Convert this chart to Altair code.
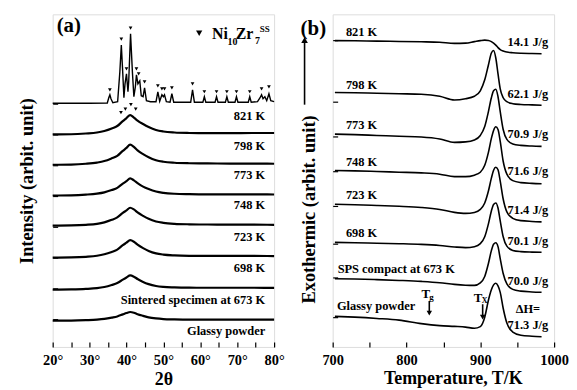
import altair as alt
import pandas as pd

FONT = "Liberation Serif"

# ---------------- (a) XRD ----------------
XRD_ANGLE = [20, 25, 29, 32, 34, 36, 37.5, 39, 40, 41, 42, 43, 44.5, 46, 48, 50, 53, 57, 62, 68, 74, 80]
XRD_SAMPLES = ["798 K", "773 K", "748 K", "723 K", "698 K", "Sintered specimen at 673 K", "Glassy powder"]
XRD_798 = [0, 0.2, 1, 2, 3.5, 6, 8.5, 13.5, 16.5, 19.5, 17, 14, 10.5, 7.5, 4.5, 3, 2, 1.5, 1.3, 1.3, 1.5, 1.5]
XRD_773 = [0, 0.2, 1, 2.2, 3.7, 6.5, 9, 14, 17, 20.2, 18, 14.5, 10.7, 7.5, 4.5, 3, 2, 1.5, 1.3, 1.2, 1.2, 1]
XRD_748 = [0, 0.2, 0.9, 1.9, 3.2, 5.5, 7.7, 12, 14.5, 17.2, 15.3, 12.5, 9, 6.5, 4, 2.7, 1.8, 1.4, 1.2, 1.2, 1.2, 1]
XRD_723 = [0, 0.2, 0.8, 1.8, 3.3, 5.8, 8.3, 12.8, 15.3, 18, 16.3, 13.3, 9.8, 6.8, 4.1, 2.8, 1.8, 1.3, 1.1, 1, 1, 0.8]
XRD_698 = [0, 0.2, 0.8, 1.8, 3.3, 5.7, 8, 12.5, 15, 17.5, 16, 13, 9.5, 6.7, 4.2, 3, 2.2, 1.8, 1.7, 1.7, 1.7, 1.5]
XRD_673 = [0, 0.2, 0.7, 1.5, 2.7, 4.7, 6.6, 10.1, 12.3, 14.3, 13.1, 10.7, 7.8, 5.6, 3.7, 2.8, 2.3, 2, 1.9, 1.9, 1.9, 1.8]
XRD_GLASS = [0, 0.1, 0.5, 1, 1.7, 3, 4.2, 6.3, 7.7, 8.7, 8, 6.5, 4.8, 3.3, 2.2, 1.6, 1.3, 1.1, 1.1, 1.1, 1.1, 1]
XRD_OFFSETS = [214, 183.5, 152.5, 122.2, 90, 57.7, 26.5]

# crystallised sample (821 K)
CRYST_ANGLE = [20, 30, 34.8, 35.2, 35.5, 35.8, 36.3, 37.6, 38.2, 38.6, 39.0, 39.3, 39.6, 40.0, 40.4, 40.6,
               41.1, 41.6, 42.0, 42.4, 42.7, 43.1, 43.6, 44.0, 44.5, 44.9, 45.4, 46.5, 48.0, 48.5, 49.0,
               49.6, 50.0, 50.3, 50.8, 51.8, 52.3, 52.8, 57.4, 57.9, 58.4, 60.7, 61.1, 61.5, 64.0, 64.4,
               64.8, 66.8, 67.2, 67.6, 69.4, 69.8, 70.2, 73.0, 73.4, 73.8, 75.5, 76.2, 76.6, 77.0, 77.5,
               78.0, 78.6, 79.1, 80]
CRYST_INT = [0, 0, 0.2, 5.5, 8.5, 4.5, 0.5, 1.5, 31.5, 58.5, 29.5, 5.5, 19.5, 29.5, 11.5, 21.5,
             70, 31.5, 6.5, 16.5, 28.5, 19.5, 22.5, 7.5, 6.5, 15.5, 2.5, 1.5, 1.5, 11.5, 2,
             8.5, 6.5, 8.5, 1.5, 1, 9.5, 1, 1, 13.5, 1, 1, 6.5, 1, 1, 6.5,
             1, 1, 6.5, 1, 1, 6.5, 1, 1, 6.5, 1, 1.5, 5.5, 8.5, 4.5, 6.5,
             2.5, 9.5, 2.5, 1.5]
CRYST_OFFSET = 245.5

# Ni10Zr7 peak markers
TRI_ANGLE = [35.5, 38.6, 40.0, 41.1, 42.7, 43.3, 44.9, 48.5, 49.6, 50.3, 52.3, 57.9, 61.1, 64.4, 67.2,
             69.8, 73.4, 76.6, 78.6, 38.5, 39.7, 41.2, 42.5]
TRI_V = [259, 310, 280, 321, 280, 275, 267, 263, 260, 260, 261, 265, 257, 257, 257,
         257, 257, 260, 262, 236, 239.5, 244, 239.5]

LABEL_A_TEXT = ["821 K", "798 K", "773 K", "748 K", "723 K", "698 K", "Sintered specimen at 673 K", "Glassy powder"]
LABEL_A_V = [233, 202.5, 173, 142.5, 111, 79.3, 47.5, 16.2]

LEGEND_TEXT = ["Ni", "10", "Zr", "7", "SS", "(a)"]
LEGEND_ANGLE = [63.2, 67.4, 69.6, 74.8, 76.1, 21.08]
LEGEND_V = [315.3, 307, 315.3, 307.7, 320, 323]
LEGEND_SIZE = [16, 10, 16, 10, 9, 21]

A_TICKS_V = [245, 214, 183, 152, 121, 90, 59, 28]

# ---------------- (b) DSC ----------------
DSC_TEMP = [703, 730, 760, 790, 820, 845, 865, 880, 892, 900, 906, 911, 915, 918, 921, 924, 927, 931, 936, 944, 955, 970, 983]
DSC_SAMPLES = ["821 K", "798 K", "773 K", "748 K", "723 K", "698 K", "SPS compact at 673 K", "Glassy powder"]
DSC_821 = [0, -0.2, -0.5, -0.8, -1.2, -1.7, -2.8, -2.5, -1, 0, 0.5, 0.2, -1, -2.5, -4.5, -7, -9, -10.5, -11.5, -12.2, -12.7, -13, -13.2]
DSC_798 = [0, -0.3, -0.8, -1.3, -1.8, -3.8, -7.6, -6.3, -3.8, 1.7, 12.7, 27.7, 39.7, 42.2, 34.7, 18.7, 3.7, -5.3, -9.3, -11.3, -12.1, -12.5, -12.8]
DSC_773 = [0, -0.5, -1.3, -2.1, -2.8, -4.8, -8.3, -7.8, -5.8, -1.3, 7.7, 22.7, 36.7, 43.7, 45.2, 37.7, 22.7, 4.7, -5.3, -9.8, -11.3, -12, -12.3]
DSC_748 = [0, -0.4, -1, -1.7, -2.4, -3.7, -6.2, -6.2, -4.7, -1.7, 5.3, 18.3, 32.3, 40.3, 44, 41.3, 29.3, 9.3, -3.7, -10.2, -12.2, -13, -13.4]
DSC_723 = [0, -0.5, -1.2, -2, -3.2, -5.2, -8.2, -9.2, -8.2, -5.2, 1.3, 13.3, 26.3, 34.3, 37.3, 34.8, 23.3, 5.3, -7.7, -14.2, -16.5, -17.3, -17.7]
DSC_698 = [0, -0.3, -0.8, -1.3, -2, -3.1, -4.6, -5.3, -4.3, -1.3, 5.7, 18.7, 31.7, 38.2, 39.7, 34.7, 21.7, 5.7, -3.8, -8.1, -9.3, -9.8, -10]
DSC_673 = [0, -0.3, -0.9, -1.7, -2.7, -4, -5.7, -6.5, -6.7, -4.2, 2.3, 15.3, 28.3, 34.8, 36.3, 32.3, 20.3, 5.3, -5.2, -10.7, -12.5, -13.3, -13.7]
DSC_GLASS = [0, -0.8, -2.1, -3.8, -7.3, -9.3, -10.1, -10.8, -12, -10.3, -0.8, 16.2, 26.7, 31.7, 33.4, 30.7, 24.2, 8.2, -6.8, -15.8, -19, -20, -20.5]
DSC_OFFSETS = [308.5, 256.3, 214.3, 177.7, 143.7, 105.3, 68.7, 30.8]

LABEL_BL_TEMP = [717.9, 717.9, 717.9, 717.9, 717.9, 717.9, 706.7, 705.8]
LABEL_BL_V = [317.3, 264, 223.3, 186.7, 152.5, 114.5, 78, 41.2]
LABEL_BR_TEXT = ["14.1 J/g", "62.1 J/g", "70.9 J/g", "71.6 J/g", "71.4 J/g", "70.1 J/g", "70.0 J/g", "ΔH=", "71.3 J/g"]
LABEL_BR_V = [307.3, 254.5, 214.5, 177.5, 138, 106.2, 66.2, 38, 21.7]

MARK_TEXT = ["T", "g", "T", "X", "(b)"]
MARK_TEMP = [826, 834, 897, 906, 673.8]
MARK_V = [53.7, 50.5, 49.5, 46.5, 320.3]
MARK_SIZE = [13, 9, 13, 8, 21]

ARROW_TEMP = [830.9, 903.2]
ARROW_TOP = [46.3, 43]
ARROW_TIP = [34, 30]

EXO_ARROW_TEMP = [661.9]
EXO_ARROW_FROM = [244]
EXO_ARROW_TO = [309]

B_TICKS_V = [309, 247, 212, 177, 142, 104, 70, 30]

W, H = 223, 335

# ---------------- tables ----------------
amorph_rows = []
for name, vals, off in zip(XRD_SAMPLES, [XRD_798, XRD_773, XRD_748, XRD_723, XRD_698, XRD_673, XRD_GLASS], XRD_OFFSETS):
    for a, i in zip(XRD_ANGLE, vals):
        amorph_rows.append({"sample": name, "angle": a, "v": off + i})
amorph = pd.DataFrame(amorph_rows)
cryst = pd.DataFrame({"angle": CRYST_ANGLE, "v": [CRYST_OFFSET + i for i in CRYST_INT]})
tris = pd.DataFrame({"angle": TRI_ANGLE, "v": TRI_V})
labels_a = pd.DataFrame({"angle": [77.6] * len(LABEL_A_TEXT), "v": LABEL_A_V, "text": LABEL_A_TEXT})
legend_a = pd.DataFrame({"angle": LEGEND_ANGLE, "v": LEGEND_V, "text": LEGEND_TEXT, "size": LEGEND_SIZE})
legend_tri = pd.DataFrame({"angle": [59.7], "v": [316]})

dsc_rows = []
for name, vals, off in zip(DSC_SAMPLES, [DSC_821, DSC_798, DSC_773, DSC_748, DSC_723, DSC_698, DSC_673, DSC_GLASS], DSC_OFFSETS):
    for t, q in zip(DSC_TEMP, vals):
        dsc_rows.append({"sample": name, "temp": t, "v": off + q})
dsc = pd.DataFrame(dsc_rows)
labels_bl = pd.DataFrame({"temp": LABEL_BL_TEMP, "v": LABEL_BL_V, "text": DSC_SAMPLES})
labels_br = pd.DataFrame({"temp": [964.5] * len(LABEL_BR_TEXT), "v": LABEL_BR_V, "text": LABEL_BR_TEXT})
marks_b = pd.DataFrame({"temp": MARK_TEMP, "v": MARK_V, "text": MARK_TEXT, "size": MARK_SIZE})
arrows = pd.DataFrame({"temp": ARROW_TEMP, "v": ARROW_TOP, "v2": ARROW_TIP})
arrow_heads = pd.DataFrame({"temp": ARROW_TEMP, "v": ARROW_TIP})
exo = pd.DataFrame({"temp": EXO_ARROW_TEMP, "v": EXO_ARROW_FROM, "v2": EXO_ARROW_TO})
exo_head = pd.DataFrame({"temp": EXO_ARROW_TEMP, "v": EXO_ARROW_TO})

# ---------------- axes ----------------
common_axis = dict(domain=False, grid=False, tickColor="black", tickWidth=1.2, tickSize=5, offset=-5,
                   labelFont=FONT, labelFontSize=14.5, labelFontWeight="bold", labelColor="black",
                   titleFont=FONT, titleFontWeight="bold", titleColor="black", labelFlush=False,
                   labelOverlap=False)

YSCALE = alt.Scale(domain=[0, 335], nice=False, zero=False)

XA = alt.X("angle:Q", scale=alt.Scale(domain=[20, 80], nice=False, zero=False),
           axis=alt.Axis(values=list(range(20, 81, 5)),
                         labelExpr="datum.value % 10 == 0 ? datum.value + '°' : ''",
                         title="2θ", titleFontSize=18, labelPadding=7, titlePadding=3, **common_axis))
YA = alt.Y("v:Q", scale=YSCALE,
           axis=alt.Axis(values=A_TICKS_V, labels=False, title="Intensity (arbit. unit)",
                         titleFontSize=18.5, titlePadding=16, **common_axis))

XB = alt.X("temp:Q", scale=alt.Scale(domain=[700, 1000], nice=False, zero=False),
           axis=alt.Axis(values=list(range(700, 1001, 50)),
                         labelExpr="datum.value % 100 == 0 ? datum.value : ''",
                         title="Temperature, T/K", titleFontSize=18, labelPadding=7, titlePadding=2,
                         titleX=121, **common_axis))
YB = alt.Y("v:Q", scale=YSCALE,
           axis=alt.Axis(values=B_TICKS_V, labels=False, title="Exothermic (arbit. unit)",
                         titleFontSize=18.5, titlePadding=14, titleY=196, **common_axis))

txt = dict(font=FONT, fontWeight="bold", color="black", baseline="middle")

# ---------------- panel (a) ----------------
a_hump = alt.Chart(amorph).mark_line(color="black", strokeWidth=2.2, interpolate="monotone").encode(
    x=XA, y=YA, detail="sample:N")
a_cryst = alt.Chart(cryst).mark_line(color="black", strokeWidth=1.4).encode(x=XA, y=YA)
a_tri = alt.Chart(tris).mark_point(shape="triangle-down", filled=True, color="black", size=14, opacity=1).encode(x=XA, y=YA)
a_ltri = alt.Chart(legend_tri).mark_point(shape="triangle-down", filled=True, color="black", size=40, opacity=1).encode(x=XA, y=YA)
a_lab = alt.Chart(labels_a).mark_text(align="right", fontSize=12.5, **txt).encode(x=XA, y=YA, text="text:N")
a_leg = alt.Chart(legend_a).mark_text(align="left", **txt).encode(
    x=XA, y=YA, text="text:N", size=alt.Size("size:Q", scale=None))
panel_a = alt.layer(a_hump, a_cryst, a_tri, a_ltri, a_lab, a_leg).properties(width=W, height=H)

# ---------------- panel (b) ----------------
b_lines = alt.Chart(dsc).mark_line(color="black", strokeWidth=1.6, interpolate="monotone").encode(
    x=XB, y=YB, detail="sample:N")
b_bl = alt.Chart(labels_bl).mark_text(align="left", fontSize=12.5, **txt).encode(x=XB, y=YB, text="text:N")
b_br = alt.Chart(labels_br).mark_text(align="center", fontSize=12.5, **txt).encode(x=XB, y=YB, text="text:N")
b_marks = alt.Chart(marks_b).mark_text(align="center", **txt).encode(
    x=XB, y=YB, text="text:N", size=alt.Size("size:Q", scale=None))
b_arrow = alt.Chart(arrows).mark_rule(color="black", strokeWidth=1.6).encode(x=XB, y=YB, y2="v2:Q")
b_arrow_head = alt.Chart(arrow_heads).mark_point(shape="triangle-down", filled=True, color="black", size=30, opacity=1).encode(
    x=XB, y=YB)
b_exo = alt.Chart(exo).mark_rule(color="black", strokeWidth=1.6).encode(x=XB, y=YB, y2="v2:Q")
b_exo_head = alt.Chart(exo_head).mark_point(shape="triangle-up", filled=True, color="black", size=45, opacity=1).encode(
    x=XB, y=YB)
panel_b = alt.layer(b_lines, b_bl, b_br, b_marks, b_arrow, b_arrow_head, b_exo, b_exo_head).properties(width=W, height=H)

chart = alt.hconcat(panel_a, panel_b, spacing=13).properties(
    padding={"left": 8, "top": 4, "right": 0, "bottom": 0}
).configure_view(stroke="black", strokeWidth=1.5).configure(background="white")

chart.save("out.html", embed_options={"renderer": "svg", "actions": False})
